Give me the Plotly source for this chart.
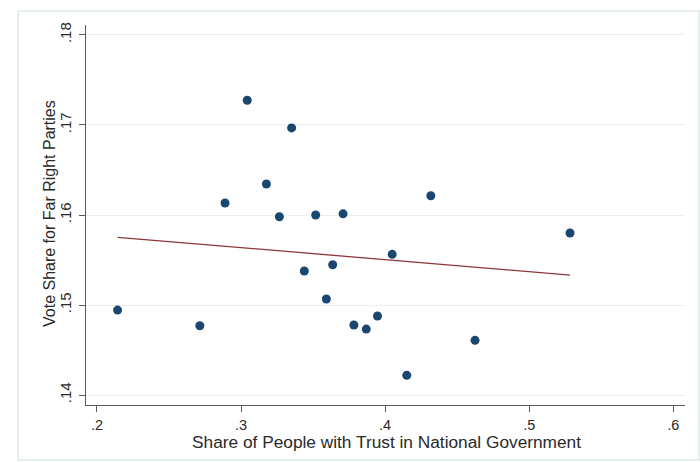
import plotly.graph_objects as go

# Country-level observations
trust_share = [0.2143, 0.2714, 0.2889, 0.3043, 0.3176, 0.3266, 0.3351, 0.3439,
               0.3518, 0.3592, 0.3636, 0.3708, 0.3783, 0.3869, 0.3947, 0.4049,
               0.4150, 0.4317, 0.4624, 0.5283]
far_right_share = [0.14944, 0.14770, 0.16133, 0.17274, 0.16344, 0.15981, 0.16967, 0.15378,
                   0.16000, 0.15067, 0.15448, 0.16013, 0.14778, 0.14733, 0.14878, 0.15563,
                   0.14219, 0.16214, 0.14608, 0.15800]

# Fitted line endpoints
fit_x = [0.2143, 0.5283]
fit_y = [0.15752, 0.15333]

x_ticks = [0.2, 0.3, 0.4, 0.5, 0.6]
x_ticklabels = [".2", ".3", ".4", ".5", ".6"]
y_ticks = [0.14, 0.15, 0.16, 0.17, 0.18]
y_ticklabels = [".14", ".15", ".16", ".17", ".18"]

FONT = "Liberation Sans, Arial, sans-serif"
TEXT = "#2a2a2a"
AXIS = "#5a5a5a"

fig = go.Figure()
fig.add_trace(go.Scatter(
    x=trust_share, y=far_right_share, mode="markers",
    marker=dict(color="#1a476f", size=9, line=dict(width=0)),
    showlegend=False, hoverinfo="x+y",
))
fig.add_trace(go.Scatter(
    x=fit_x, y=fit_y, mode="lines",
    line=dict(color="#90353b", width=1.3),
    showlegend=False, hoverinfo="skip",
))

L, R, T, B = 86, 15, 25, 57
W, H = 700, 462
pw, ph = W - L - R, H - T - B


def px(xp):
    return (xp - L) / pw


def py(yp):
    return (H - B - yp) / ph


fig.update_layout(
    width=W, height=H,
    margin=dict(l=L, r=R, t=T, b=B, pad=0),
    paper_bgcolor="white", plot_bgcolor="white",
    font=dict(family=FONT, color=TEXT, size=14),
    shapes=[dict(
        type="rect", xref="paper", yref="paper",
        x0=px(18), x1=px(699), y0=py(460), y1=py(11),
        line=dict(color="#e4eeef", width=2), fillcolor="rgba(0,0,0,0)",
        layer="below",
    )],
    annotations=[
        dict(text="Share of People with Trust in National Government",
             xref="paper", yref="paper", x=px(386), y=py(442),
             xanchor="center", yanchor="middle", showarrow=False,
             font=dict(size=17.3, family=FONT, color=TEXT)),
        dict(text="Vote Share for Far Right Parties",
             xref="paper", yref="paper", x=px(49), y=py(214),
             xanchor="center", yanchor="middle", showarrow=False, textangle=-90,
             font=dict(size=16, family=FONT, color=TEXT)),
    ],
    xaxis=dict(
        range=[0.1924, 0.6081],
        tickmode="array", tickvals=x_ticks, ticktext=x_ticklabels,
        ticks="outside", ticklen=6, tickwidth=1.3, tickcolor=AXIS,
        showline=True, linecolor=AXIS, linewidth=1.3,
        showgrid=False, zeroline=False,
        tickfont=dict(size=14.5, family=FONT, color=TEXT),
        ticklabelstandoff=0,
    ),
    yaxis=dict(
        range=[0.1389, 0.1811],
        tickmode="array", tickvals=y_ticks, ticktext=y_ticklabels,
        ticks="outside", ticklen=6, tickwidth=1.3, tickcolor=AXIS,
        showline=True, linecolor=AXIS, linewidth=1.3,
        showgrid=True, gridcolor="#e8f0f1", gridwidth=1.2, zeroline=False,
        tickangle=-90,
        tickfont=dict(size=15, family=FONT, color=TEXT),
        ticklabelstandoff=2,
    ),
)

fig.write_html("out.html")
